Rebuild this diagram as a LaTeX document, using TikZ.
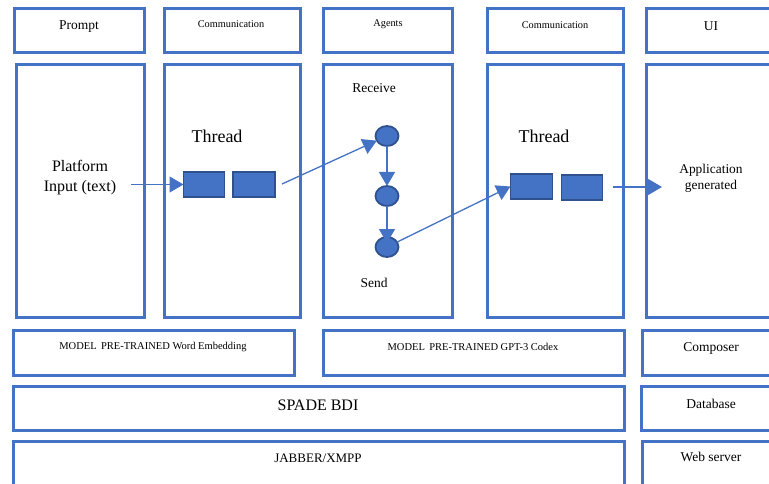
\documentclass[tikz,border=0pt]{standalone}
\usepackage{fontspec}
\setmainfont{Liberation Serif}
\usetikzlibrary{arrows.meta,shapes.geometric}
\definecolor{ob}{HTML}{4472C4}
\definecolor{obd}{HTML}{2F528F}
\begin{document}
\begin{tikzpicture}[x=1pt,y=-1pt,
  box/.style={draw=ob,line width=3pt,anchor=north west,inner sep=0pt,outer sep=0pt},
  blk/.style={draw=obd,fill=ob,line width=1.8pt,inner sep=0pt,outer sep=0pt,minimum width=41pt,minimum height=25pt},
  dot/.style={ellipse,draw=obd,fill=ob,line width=1.8pt,inner sep=0pt,outer sep=0pt,minimum width=23pt,minimum height=20pt},
  con/.style={draw=ob,line width=1.3pt,-{Triangle[length=14pt,width=16pt]}},
  fs/.style={font=\fontsize{10.3}{12}\selectfont},
  fm/.style={font=\fontsize{13.5}{16}\selectfont},
  fl/.style={font=\fontsize{16}{20}\selectfont,align=center},
  fx/.style={font=\fontsize{18}{21}\selectfont},
  fa/.style={font=\fontsize{13.4}{16}\selectfont,align=center}
]
\useasboundingbox (0,0) rectangle (769,484);
\clip (0,0) rectangle (769,484);
% header boxes
\node[box,minimum width=130pt,minimum height=44pt] (hPrompt) at (14.5,8.5) {};
\node[box,minimum width=136pt,minimum height=44pt] (hComm1) at (164.5,8.5) {};
\node[box,minimum width=129pt,minimum height=44pt] (hAgents) at (323.5,8.5) {};
\node[box,minimum width=136pt,minimum height=44pt] (hComm2) at (487.5,8.5) {};
\node[box,minimum width=144pt,minimum height=44pt] (hUI) at (646.5,8.5) {};
% column boxes
\node[box,minimum width=128pt,minimum height=253pt] (cPrompt) at (16.5,64.5) {};
\node[box,minimum width=136pt,minimum height=253pt] (cComm1) at (164.5,64.5) {};
\node[box,minimum width=129pt,minimum height=253pt] (cAgents) at (323.5,64.5) {};
\node[box,minimum width=136pt,minimum height=253pt] (cComm2) at (487.5,64.5) {};
\node[box,minimum width=144pt,minimum height=253pt] (cUI) at (646.5,64.5) {};
% lower rows
\node[box,minimum width=281pt,minimum height=45pt] (mWord) at (13.5,330.5) {};
\node[box,minimum width=301pt,minimum height=45pt] (mGPT) at (323.5,330.5) {};
\node[box,minimum width=148pt,minimum height=45pt] (rComposer) at (642.5,330.5) {};
\node[box,minimum width=611pt,minimum height=44pt] (sSpade) at (13.5,386.5) {};
\node[box,minimum width=149pt,minimum height=44pt] (rDatabase) at (641.5,386.5) {};
\node[box,minimum width=611pt,minimum height=60pt] (sJabber) at (13.5,441.5) {};
\node[box,minimum width=148pt,minimum height=60pt] (rWeb) at (642.5,441.5) {};
% header labels
\node[fm] (lPrompt) at (79,27) {Prompt};
\node[fs] (lComm1) at (231,24) {Communication};
\node[fs] (lAgents) at (388,24) {Agents};
\node[fs] (lComm2) at (555,25) {Communication};
\node[fm] (lUI) at (711,26) {UI};
% column contents
\node[fl] (lPlat) at (80,178) {Platform\\Input (text)};
\node[fx] (lThread1) at (217,136) {Thread};
\node[fx] (lThread2) at (544,136) {Thread};
\node[fm] (lReceive) at (374,88) {Receive};
\node[fm] (lSend) at (374,283) {Send};
\node[fa] (lApp) at (711,178) {Application\\generated};
\node[blk] (t1a) at (204,184.5) {};
\node[blk,minimum width=42pt] (t1b) at (254,184.5) {};
\node[blk,minimum width=42pt] (t2a) at (531.5,186.5) {};
\node[blk] (t2b) at (582,187.5) {};
\node[dot] (c1) at (387,136) {};
\node[dot] (c2) at (387,196) {};
\node[dot] (c3) at (387,247) {};
% row labels
\node[fs,font=\fontsize{10.5}{12}\selectfont] (lWord) at (153,347) {MODEL\, PRE-TRAINED Word Embedding};
\node[fs,font=\fontsize{10.5}{12}\selectfont] (lGPT) at (473,347) {MODEL\, PRE-TRAINED GPT-3 Codex};
\node[fm] (lComposer) at (711,348) {Composer};
\node[fl] (lSpade) at (318,405) {SPADE BDI};
\node[fm,font=\fontsize{13}{15}\selectfont] (lJabber) at (318,458) {JABBER/XMPP};
\node[fm] (lDatabase) at (711,404) {Database};
\node[fm] (lWeb) at (711,457) {Web server};
% connectors
\coordinate (pIn) at (131,184.5);
\coordinate (pOut1) at (282,184);
\coordinate (pOut2) at (613,187);
\coordinate (pApp) at (662,187);
\draw[con] (pIn) -- (t1a.west);
\draw[con] (pOut1) -- (c1);
\draw[con] (c1.south) -- (c2.north);
\draw[con,shorten >=4pt] (c2.south) -- (c3.center);
\draw[con] (c3) -- (t2a.west);
\draw[con] (pOut2) -- (pApp);
\end{tikzpicture}
\end{document}
